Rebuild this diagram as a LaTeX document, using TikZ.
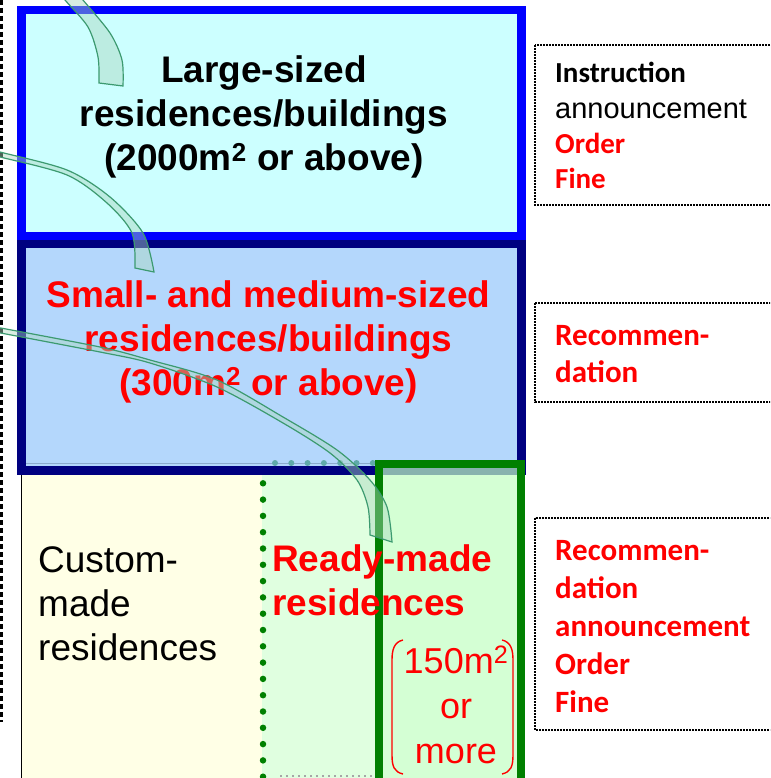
\documentclass[tikz,border=0pt]{standalone}
\usepackage{fontspec}
\setmainfont{Liberation Sans}
\newfontfamily\carlito{Carlito}
\definecolor{largefill}{RGB}{204,255,255}
\definecolor{largeedge}{RGB}{0,0,255}
\definecolor{midfill}{RGB}{180,215,252}
\definecolor{midedge}{RGB}{0,0,128}
\definecolor{customfill}{RGB}{255,255,230}
\definecolor{readyfill}{RGB}{224,255,224}
\definecolor{greenedge}{RGB}{0,128,0}
\definecolor{greenfill}{RGB}{194,255,194}
\definecolor{bandfill}{RGB}{170,215,190}
\definecolor{bandedge}{RGB}{60,154,112}
\definecolor{tealdot}{RGB}{95,170,170}
\definecolor{seam}{RGB}{140,170,205}
\definecolor{txtred}{RGB}{255,0,0}
\begin{document}
\begin{tikzpicture}[x=1pt,y=-1pt,
  bigbold/.style={font=\fontsize{37}{44}\selectfont\bfseries, align=center, inner sep=0pt},
  bigplain/.style={font=\fontsize{37}{44}\selectfont, align=left, inner sep=0pt},
  notebox/.style={draw=black, line width=1.6pt, dash pattern=on 1.6pt off 1.4pt},
  notetext/.style={font=\carlito\bfseries, align=left, inner sep=0pt, anchor=base west},
  band/.style={fill=bandfill, fill opacity=0.45, draw=bandedge, draw opacity=1, line width=1.2pt}]
\useasboundingbox (0,0) rectangle (770,778);
\clip (0,0) rectangle (770,778);

% left dashed margin line
\draw[black, line width=2.6pt, dash pattern=on 5pt off 3pt] (1.2,0) -- (1.2,722);

% lower band: custom-made and ready-made parts
\fill[customfill] (22,470) rectangle (262,790);
\draw[black, line width=1.5pt] (21.7,470) -- (21.7,790);
\fill[readyfill] (262,470) rectangle (380,790);
\draw[greenedge, line width=6.5pt, line cap=round, dash pattern=on 0pt off 16.3pt] (263,467) -- (263,790);
\draw[black!35, line width=1.2pt, dash pattern=on 2pt off 4pt] (280,776) -- (378,776);

% large-sized box
\filldraw[fill=largefill, draw=largeedge, line width=8.6pt] (21.7,10) rectangle (521.5,236);
% small- and medium-sized box
\filldraw[fill=midfill, draw=midedge, line width=8.6pt] (21.7,244) rectangle (521.5,470.5);
\draw[seam, line width=1.5pt] (26,463.5) -- (517,463.5);
\draw[tealdot, line width=6pt, line cap=round, dash pattern=on 0pt off 16.3pt] (275,463) -- (380,463);

% 150 m2 box
\filldraw[fill=greenfill, fill opacity=0.7, draw=greenedge, draw opacity=1, line width=8pt] (379,464) rectangle (521,800);

% labels (base anchor = baseline of the last line)
\node[bigbold, anchor=base] (large) at (264,171)
  {Large-sized\\residences/buildings\\(2000m\textsuperscript{2} or above)};
\node[bigbold, text=txtred, anchor=base] (medium) at (268.5,395)
  {Small- and medium-sized\\residences/buildings\\(300m\textsuperscript{2} or above)};
\node[bigplain, anchor=base west] (custom) at (38,660) {Custom-\\made\\residences};
\node[bigbold, text=txtred, align=left, anchor=base west] (ready) at (272,615) {Ready-made\\residences};
\node[font=\fontsize{36}{45}\selectfont, text=txtred, align=center, inner sep=0pt, anchor=base] (size) at (456,763)
  {150m\textsuperscript{2}\\or\\more};

% brackets round the size label
\draw[txtred, line width=1.4pt] (403,640) .. controls (394,642) and (392,650) .. (392,660) -- (392,755)
  .. controls (392,766) and (394,772) .. (403,774);
\draw[txtred, line width=1.4pt] (502,640) .. controls (511,642) and (513,650) .. (513,660) -- (513,755)
  .. controls (513,766) and (511,772) .. (502,774);

% measures on the right
\draw[notebox] (535,45) rectangle (773,205);
\node[notetext, font=\carlito\bfseries\fontsize{29}{35}\selectfont] (measures1) at (555,188)
  {Instruction\\{\normalfont\fontsize{29}{35}\selectfont announcement}\\\textcolor{txtred}{Order}\\\textcolor{txtred}{Fine}};
\draw[notebox] (535,303) rectangle (773,402);
\node[notetext, font=\carlito\bfseries\fontsize{31}{37}\selectfont, text=txtred] (measures2) at (555,382)
  {Recommen-\\dation};
\draw[notebox] (535,518) rectangle (773,730);
\node[notetext, font=\carlito\bfseries\fontsize{31}{38}\selectfont, text=txtred] (measures3) at (555,712)
  {Recommen-\\dation\\announcement\\Order\\Fine};

% curved pointers coming in from the left
\path[band] plot[smooth] coordinates {(60,-8) (65,0) (88,27) (98,57) (99,83)}
  -- plot[smooth] coordinates {(123,86) (122,60) (110,33) (83,0) (77,-8)} -- cycle;
\path[band] plot[smooth] coordinates {(-10,149) (0,152) (67,170) (110,197) (143,233) (154,272)}
  -- plot[smooth] coordinates {(135,268) (132,233) (107,203) (67,175) (0,157) (-10,155)} -- cycle;
\path[band] plot[smooth] coordinates {(-10,326) (100,347) (150,360) (217,380) (283,417) (337,450) (370,480) (387,507) (392,542)}
  -- plot[smooth] coordinates {(370,535) (368,507) (357,480) (330,453) (283,423) (217,387) (150,363) (100,352) (-10,331)} -- cycle;
\end{tikzpicture}
\end{document}
